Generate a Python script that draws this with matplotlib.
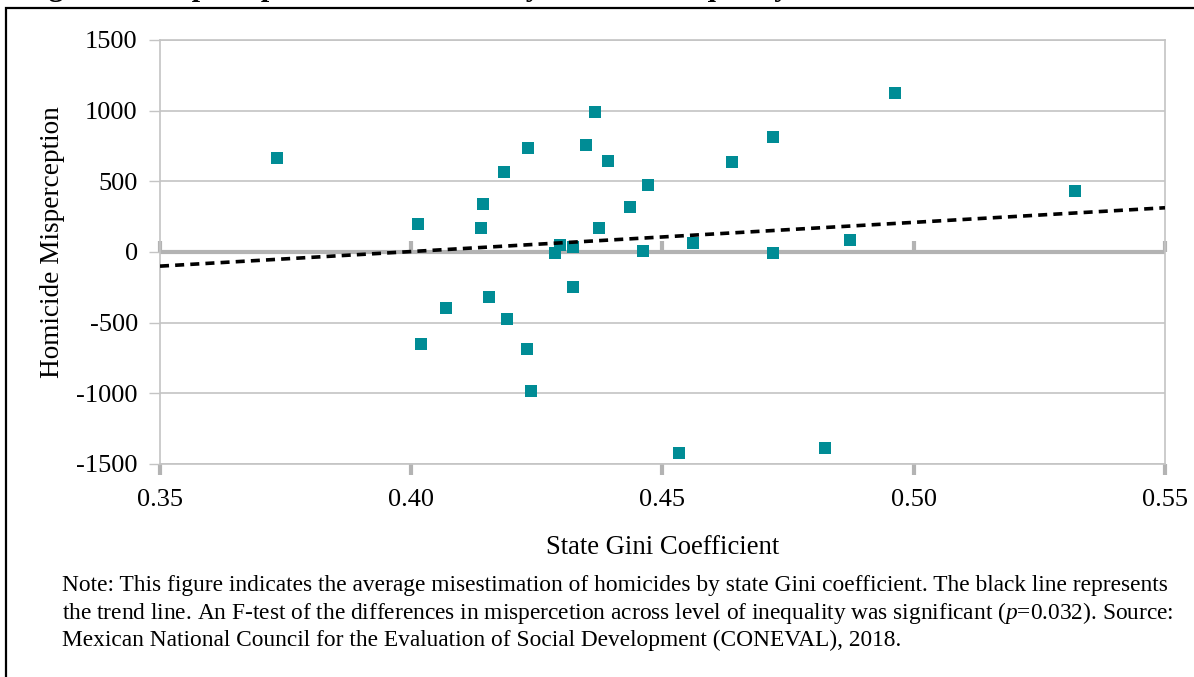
import numpy             as np
import matplotlib
matplotlib.use('Agg')
import matplotlib.pyplot as plt
from matplotlib.patches import Rectangle


# Chart data
gini = [0.3733, 0.4013, 0.4019, 0.4069, 0.4139, 0.4142, 0.4155, 0.4185,
        0.4190, 0.4230, 0.4232, 0.4238, 0.4287, 0.4296, 0.4321, 0.4321,
        0.4347, 0.4366, 0.4374, 0.4392, 0.4435, 0.4461, 0.4472, 0.4533,
        0.4560, 0.4639, 0.4719, 0.4719, 0.4823, 0.4873, 0.4963, 0.5321]
misperception = [665, 198, -653, -396, 170, 342, -321, 568,
                 -476, -689, 738, -986, -10, 50, 37, -245,
                 757, 990, 172, 644, 318, 9, 476, -1424,
                 61, 637, 814, -5, -1389, 83, 1123, 434]
trend_x = [0.35, 0.55]
trend_y = [-100, 313]

x_ticks   = [0.35, 0.40, 0.45, 0.50, 0.55]
y_ticks   = [-1500, -1000, -500, 0, 500, 1000, 1500]
title     = 'Figure 4. Misperception of Homicides by Level of Inequality'
x_label   = 'State Gini Coefficient'
y_label   = 'Homicide Misperception'
note_text = ('Note: This figure indicates the average misestimation of homicides '
             'by state Gini coefficient. The black line represents\n'
             'the trend line. An F-test of the differences in mispercetion across '
             'level of inequality was significant ($\\it{p}$=0.032). Source:\n'
             'Mexican National Council for the Evaluation of Social Development '
             '(CONEVAL), 2018.')

teal = '#008c95'
grid = '#c4c4c4'
axis = '#b3b3b3'

plt.rcParams['font.family']        = 'Liberation Serif'
plt.rcParams['axes.unicode_minus'] = False
plt.rcParams['mathtext.fontset']   = 'custom'
plt.rcParams['mathtext.it']        = 'Liberation Serif:italic'
plt.rcParams['mathtext.rm']        = 'Liberation Serif'

fig = plt.figure(figsize=(11.94, 6.77), dpi=100)
ax  = fig.add_axes([160 / 1194, 213 / 677, 1005 / 1194, 424 / 677])

#       Scatter points and trend line
ax.plot(gini, misperception, 's', color=teal, markersize=8.6,
        markeredgewidth=0, zorder=4)
ax.plot(trend_x, trend_y, color='black', linewidth=2.6,
        linestyle=(0, (2.5, 1.7)), zorder=5)

#       Axes limits, ticks and grid
ax.set_xlim(0.35, 0.55)
ax.set_ylim(-1500, 1500)
ax.set_xticks(x_ticks)
ax.set_xticklabels(['%.2f' % v for v in x_ticks])
ax.set_yticks(y_ticks)
ax.yaxis.grid(True, color=grid, linewidth=1.2)
ax.set_axisbelow(True)
ax.axhline(0, color=axis, linewidth=3, zorder=2)

for side in ['left', 'right', 'top', 'bottom']:
    ax.spines[side].set_color(grid)
    ax.spines[side].set_linewidth(1.2)
ax.tick_params(axis='y', direction='out', length=8, width=1, color=grid,
               labelsize=19, pad=8)
ax.tick_params(axis='x', direction='out', length=8, width=3, color=axis,
               labelsize=19, pad=10)

#       Second set of x ticks on the zero line
zero_axis = ax.secondary_xaxis(0.5)
zero_axis.set_xticks(x_ticks)
zero_axis.tick_params(direction='out', length=8, width=3, color=axis,
                      labelbottom=False, labeltop=False)
zero_axis.spines['bottom'].set_visible(False)
zero_axis.spines['top'].set_visible(False)

#       Labels
ax.set_xlabel(x_label, fontsize=19.2, labelpad=17)
ax.set_ylabel(y_label, fontsize=19.6)
ax.yaxis.set_label_coords(-0.0945, 0.524)
fig.text(62 / 1194, 1 - 575 / 677, note_text, fontsize=16.8,
         ha='left', va='top', linespacing=1.22)

#       Clipped title (only its lowest part is on the page) and frame
fig.text(22 / 1194, 1 + 4.5 / 677, title, fontsize=21.5, fontweight='bold',
         ha='left', va='baseline')
fig.patches.append(Rectangle((6 / 1194, -0.05), 1.2, 1.05 - 8 / 677,
                             transform=fig.transFigure, fill=False,
                             edgecolor='black', linewidth=1.6))

fig.savefig('out.png', dpi=100)
